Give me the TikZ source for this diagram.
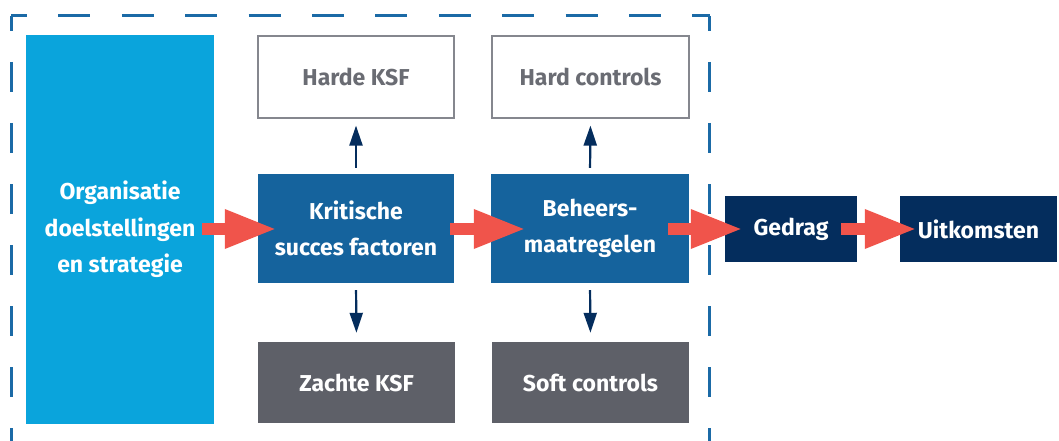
\documentclass[tikz,border=0pt]{standalone}
\usepackage{fontspec}
\setmainfont{Fira Sans}
\usetikzlibrary{arrows.meta,calc}
\definecolor{orgblue}{HTML}{0AA4DC}
\definecolor{midblue}{HTML}{15639D}
\definecolor{navy}{HTML}{042D5D}
\definecolor{boxgray}{HTML}{5E6068}
\definecolor{txtgray}{HTML}{6A6C73}
\definecolor{redarrow}{HTML}{F0544B}
\definecolor{framecol}{HTML}{1B6AA6}
\definecolor{bordergray}{HTML}{85878E}
\tikzset{
  box/.style={rectangle, inner sep=0pt, align=center,
    font=\bfseries\fontsize{23}{36.5}\selectfont},
  orgbox/.style={box, fill=orgblue, text=white},
  bluebox/.style={box, fill=midblue, text=white},
  navybox/.style={box, fill=navy, text=white},
  graybox/.style={box, fill=boxgray, text=white},
  whitebox/.style={box, fill=white, draw=bordergray, line width=1.2pt, text=txtgray},
  bigarrow/.style={draw=redarrow, line width=12pt,
    -{Triangle[width=36pt,length=52pt,fill=redarrow]}},
  smallarrow/.style={draw=navy, line width=2.2pt,
    -{Triangle[width=13pt,length=20pt,fill=navy]}},
  frame/.style={draw=framecol, line width=3pt}
}
\begin{document}
\begin{tikzpicture}[x=1pt,y=-1pt]
\useasboundingbox (0,0) rectangle (1059,441);
% dashed frame
\draw[frame, dash pattern=on 32pt off 31.4pt, dash phase=16pt] (11,16) -- (710,16);
\draw[frame, dash pattern=on 30pt off 31pt, dash phase=15pt] (11,16) -- (11,441);
\draw[frame, dash pattern=on 30pt off 31pt, dash phase=15pt] (709.5,16) -- (709.5,441);
% boxes
\node[orgbox, minimum width=188pt, minimum height=389pt] (org) at (120,229.5)
  {Organisatie\\doelstellingen\\en strategie};
\node[whitebox, minimum width=196pt, minimum height=82pt] (harde) at (356,77) {Harde KSF};
\node[whitebox, minimum width=197pt, minimum height=82pt] (hardc) at (590.5,77) {Hard controls};
\node[bluebox, minimum width=196pt, minimum height=109pt] (ksf) at (356,228.5)
  {Kritische\\succes factoren};
\node[bluebox, minimum width=198pt, minimum height=109pt] (beh) at (590,228.5)
  {Beheers-\\maatregelen};
\node[graybox, minimum width=197pt, minimum height=81pt] (zachte) at (356.5,382.5) {Zachte KSF};
\node[graybox, minimum width=197pt, minimum height=81pt] (soft) at (590.5,382.5) {Soft controls};
\node[navybox, minimum width=132pt, minimum height=66pt] (gedrag) at (791,229) {Gedrag};
\node[navybox, minimum width=157pt, minimum height=66pt] (uit) at (978.5,229) {Uitkomsten};
% small arrows
\draw[smallarrow, shorten <=6pt, shorten >=7pt] (ksf.north) -- (harde.south);
\draw[smallarrow, shorten <=6pt, shorten >=7pt] (beh.north) -- (hardc.south);
\draw[smallarrow, shorten <=7pt, shorten >=9pt] (ksf.south) -- (zachte.north);
\draw[smallarrow, shorten <=7pt, shorten >=9pt] (beh.south) -- (soft.north);
% big arrows
\draw[bigarrow] ([xshift=-12pt]org.east |- gedrag.west) -- ([xshift=19pt]ksf.west |- gedrag.west);
\draw[bigarrow] ([xshift=-4pt]ksf.east |- gedrag.west) -- ([xshift=35pt]beh.west |- gedrag.west);
\draw[bigarrow] ([xshift=-21pt]beh.east |- gedrag.west) -- ([xshift=18pt]gedrag.west);
\draw[bigarrow] ([xshift=-16pt]gedrag.east) -- ([xshift=17pt]uit.west);
\end{tikzpicture}
\end{document}
